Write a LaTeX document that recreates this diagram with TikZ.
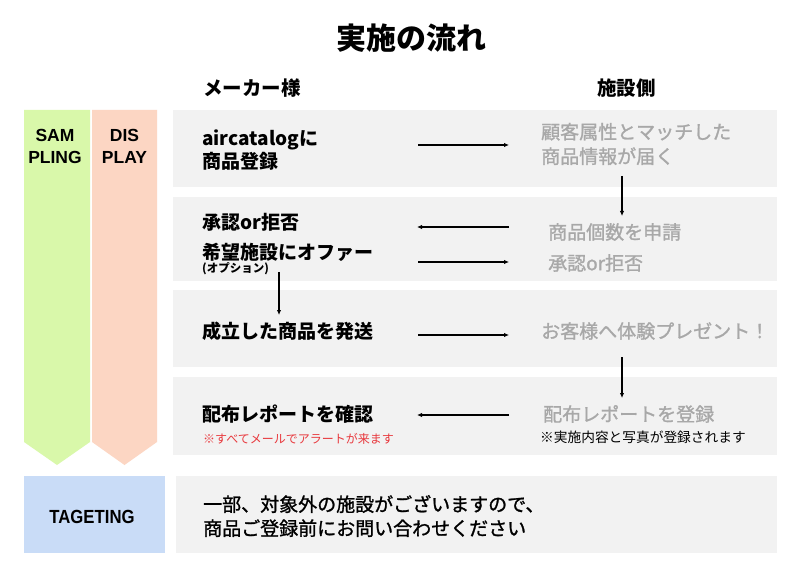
\documentclass[tikz,border=0pt]{standalone}
\usepackage{fontspec}
\setmainfont{Noto Sans CJK JP}
\newfontfamily\jpmed{Noto Sans CJK JP}[FakeBold=1.2]
\newfontfamily\lat{Liberation Sans}
\usetikzlibrary{arrows.meta}
\definecolor{boxgray}{HTML}{F2F2F2}
\definecolor{txtgray}{HTML}{A8A8A8}
\definecolor{sgreen}{HTML}{D9F8AA}
\definecolor{dsalmon}{HTML}{FCD6C3}
\definecolor{tblue}{HTML}{C9DCF7}
\definecolor{notered}{HTML}{E8383D}
\begin{document}
\begin{tikzpicture}[x=1pt,y=-1pt,
  panel/.style={fill=boxgray,draw=none},
  ltxt/.style={anchor=west,inner sep=0pt,align=left,font=\fontsize{19}{23}\selectfont\bfseries},
  rtxt/.style={anchor=west,inner sep=0pt,align=left,text=txtgray,font=\jpmed\fontsize{19}{24.5}\selectfont},
  small/.style={anchor=west,inner sep=0pt,font=\fontsize{12}{14}\selectfont},
  head/.style={anchor=west,inner sep=0pt,font=\fontsize{19.5}{23}\selectfont\bfseries},
  tag/.style={inner sep=0pt,align=center,font=\lat\fontsize{17.5}{22}\selectfont\bfseries},
  flow/.style={-{Latex[length=5pt,width=4.5pt]},line width=1.3pt}]
\useasboundingbox (0,0) rectangle (800,561);
\fill[white] (0,0) rectangle (800,561);
% title and headers
\node[inner sep=0pt,font=\fontsize{30}{34}\selectfont\bfseries] (title) at (411,38) {実施の流れ};
\node[head] (hmaker) at (203,88) {メーカー様};
\node[head] (hfac) at (597,88) {施設側};
% side arrows
\fill[sgreen] (24,110) -- (90,110) -- (90,442) -- (57,465) -- (24,442) -- cycle;
\fill[dsalmon] (92,110) -- (157,110) -- (157,442) -- (124.5,465) -- (92,442) -- cycle;
\node[tag] (samp) at (55,146) {SAM\\PLING};
\node[tag] (disp) at (124.5,146) {DIS\\PLAY};
% panels
\fill[panel] (173,110) rectangle (777,187);
\fill[panel] (173,197) rectangle (777,281);
\fill[panel] (173,290) rectangle (777,367);
\fill[panel] (173,377) rectangle (777,455);
\fill[panel] (176,476) rectangle (777,553);
\fill[tblue] (24,476) rectangle (165,553);
\node[inner sep=0pt,xscale=0.88,font=\lat\fontsize{19}{22}\selectfont\bfseries] (tagt) at (92,517) {TAGETING};
% row 1
\node[ltxt] (r1l) at (202,150) {aircatalogに\\商品登録};
\node[rtxt] (r1r) at (541,144) {顧客属性とマッチした\\商品情報が届く};
% row 2
\node[ltxt] (r2a) at (202,222) {承認or拒否};
\node[ltxt] (r2b) at (202,252) {希望施設にオファー};
\node[anchor=west,inner sep=0pt,font=\fontsize{11.5}{13}\selectfont\bfseries] (r2c) at (202,269) {(オプション)};
\node[rtxt] (r2r1) at (548,232) {商品個数を申請};
\node[rtxt] (r2r2) at (548,263) {承認or拒否};
% row 3
\node[ltxt] (r3l) at (202,331) {成立した商品を発送};
\node[rtxt] (r3r) at (541,331) {お客様へ体験プレゼント！};
% row 4
\node[ltxt] (r4l) at (202,414) {配布レポートを確認};
\node[small,text=notered] (r4n) at (203,439) {※すべてメールでアラートが来ます};
\node[rtxt] (r4r) at (543,414) {配布レポートを登録};
\node[anchor=west,inner sep=0pt,font=\fontsize{13.7}{15}\selectfont] (r4m) at (540,437) {※実施内容と写真が登録されます};
% bottom
\node[anchor=west,inner sep=0pt,align=left,font=\jpmed\fontsize{19}{24}\selectfont] (bot) at (203,516) {一部、対象外の施設がございますので、\\商品ご登録前にお問い合わせください};
% connectors
\coordinate (a1s) at (418,145); \coordinate (a1e) at (509,145);
\coordinate (a2s) at (509,227); \coordinate (a2e) at (417,227);
\coordinate (a3s) at (418,262); \coordinate (a3e) at (509,262);
\coordinate (a4s) at (418,335); \coordinate (a4e) at (509,335);
\coordinate (a5s) at (509,415); \coordinate (a5e) at (417,415);
\coordinate (d1s) at (622,176); \coordinate (d1e) at (622,216);
\coordinate (d2s) at (279,272); \coordinate (d2e) at (279,315);
\coordinate (d3s) at (622,357); \coordinate (d3e) at (622,398);
\draw[flow] (a1s) -- (a1e);
\draw[flow] (a2s) -- (a2e);
\draw[flow] (a3s) -- (a3e);
\draw[flow] (a4s) -- (a4e);
\draw[flow] (a5s) -- (a5e);
\draw[flow] (d1s) -- (d1e);
\draw[flow] (d2s) -- (d2e);
\draw[flow] (d3s) -- (d3e);
\end{tikzpicture}
\end{document}
